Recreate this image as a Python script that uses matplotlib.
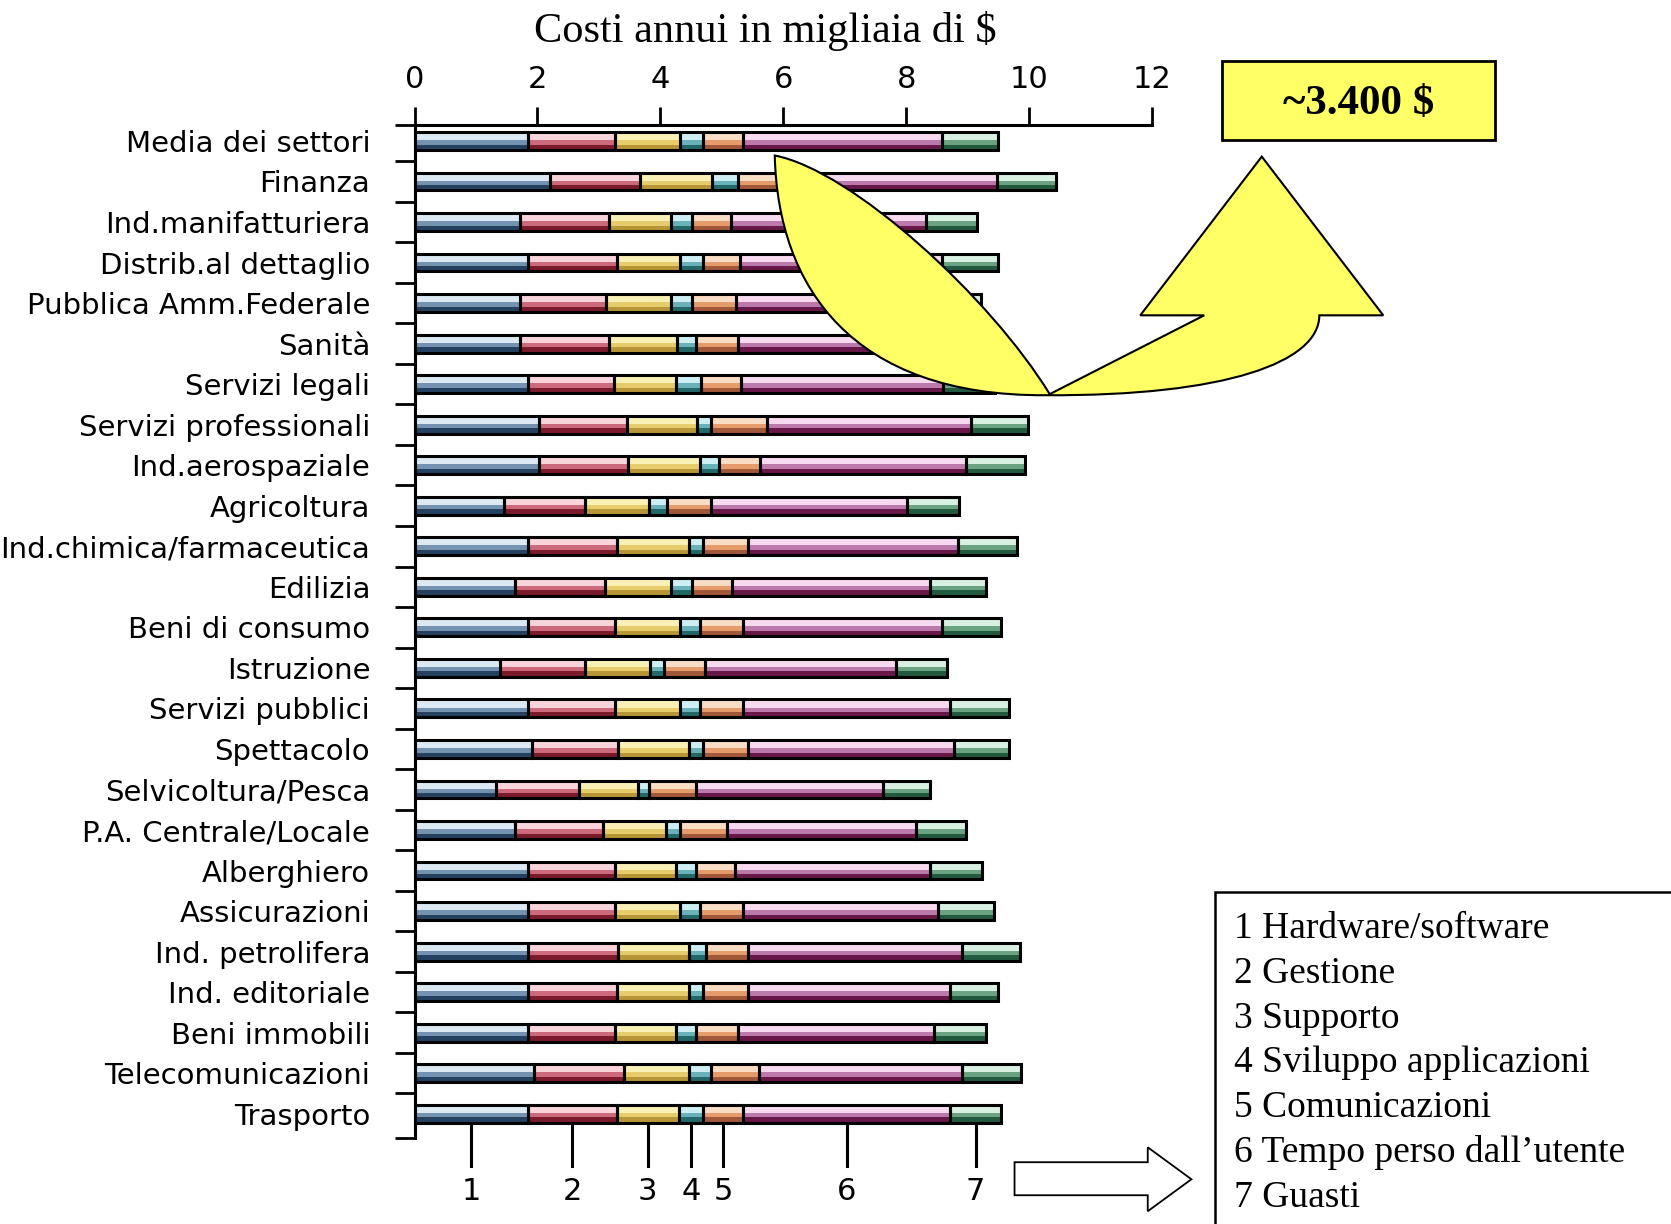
import numpy as np
import matplotlib.pyplot as plt
from matplotlib.path import Path
from matplotlib.patches import PathPatch, Rectangle, Polygon

# settori (dall'alto verso il basso)
settori = ["Media dei settori", "Finanza", "Ind.manifatturiera", "Distrib.al dettaglio",
           "Pubblica Amm.Federale", "Sanità", "Servizi legali", "Servizi professionali",
           "Ind.aerospaziale", "Agricoltura", "Ind.chimica/farmaceutica", "Edilizia",
           "Beni di consumo", "Istruzione", "Servizi pubblici", "Spettacolo",
           "Selvicoltura/Pesca", "P.A. Centrale/Locale", "Alberghiero", "Assicurazioni",
           "Ind. petrolifera", "Ind. editoriale", "Beni immobili", "Telecomunicazioni",
           "Trasporto"]

# costi annui (migliaia di $) per componente
hardware = [1.84, 2.21, 1.71, 1.84, 1.71, 1.71, 1.84, 2.02, 2.02, 1.45, 1.84, 1.64, 1.84,
            1.39, 1.84, 1.91, 1.33, 1.64, 1.84, 1.84, 1.84, 1.84, 1.84, 1.95, 1.84]
gestione = [1.42, 1.46, 1.46, 1.45, 1.41, 1.46, 1.40, 1.44, 1.46, 1.33, 1.45, 1.46, 1.42,
            1.39, 1.42, 1.40, 1.34, 1.42, 1.42, 1.42, 1.47, 1.45, 1.42, 1.46, 1.45]
supporto = [1.06, 1.17, 1.01, 1.03, 1.06, 1.10, 1.02, 1.14, 1.16, 1.03, 1.17, 1.08, 1.06,
            1.05, 1.06, 1.16, 0.97, 1.03, 0.99, 1.06, 1.15, 1.17, 0.99, 1.05, 1.01]
sviluppo = [0.38, 0.43, 0.33, 0.38, 0.33, 0.31, 0.40, 0.22, 0.32, 0.30, 0.24, 0.33, 0.33,
            0.23, 0.33, 0.23, 0.17, 0.23, 0.33, 0.33, 0.29, 0.24, 0.33, 0.36, 0.40]
comunicazioni = [0.64, 0.65, 0.64, 0.60, 0.72, 0.69, 0.65, 0.91, 0.66, 0.71, 0.73, 0.65, 0.69,
                 0.66, 0.69, 0.73, 0.77, 0.76, 0.64, 0.69, 0.68, 0.73, 0.69, 0.78, 0.64]
tempo_perso = [3.25, 3.55, 3.17, 3.28, 3.22, 3.23, 3.29, 3.32, 3.36, 3.20, 3.41, 3.23, 3.25,
               3.11, 3.38, 3.35, 3.05, 3.08, 3.17, 3.18, 3.48, 3.29, 3.19, 3.31, 3.38]
guasti = [0.91, 0.97, 0.83, 0.92, 0.77, 0.80, 0.85, 0.94, 0.96, 0.84, 0.96, 0.91, 0.95,
          0.83, 0.96, 0.90, 0.76, 0.82, 0.84, 0.91, 0.94, 0.78, 0.84, 0.96, 0.82]

componenti = ["1 Hardware/software", "2 Gestione", "3 Supporto", "4 Sviluppo applicazioni",
              "5 Comunicazioni", "6 Tempo perso dall\u2019utente", "7 Guasti"]
numeri = ["1", "2", "3", "4", "5", "6", "7"]
xticks = [0, 2, 4, 6, 8, 10, 12]

# colori: chiaro (sopra), medio, scuro (sotto)
chiari = ['#dce9f3', '#f8d3da', '#f8f0b4', '#cdeff3', '#f8dcc4', '#f8daf0', '#d8f0e2']
medi = ['#7393b1', '#cc6a7c', '#e6cc6a', '#6ab2ba', '#e69c6a', '#bc7aac', '#6aa282']
scuri = ['#24425f', '#7a1a2a', '#b89638', '#226868', '#a05838', '#681848', '#225a40']

sans = ['DejaVu Sans']
serif = ['Liberation Serif', 'DejaVu Serif']

fig = plt.figure(figsize=(16.71, 12.24), dpi=100)
ax = fig.add_axes([0.2481, 0.0702, 0.4413, 0.8279])

segs = np.array([hardware, gestione, supporto, sviluppo, comunicazioni, tempo_perso, guasti])
lefts = np.vstack([np.zeros(len(settori)), np.cumsum(segs, axis=0)[:-1]])
y = np.arange(len(settori))
h = 0.44

for k in range(7):
    top = y - h / 2
    ax.barh(top + 0.225 * h, segs[k], left=lefts[k], height=0.45 * h, color=chiari[k], zorder=2)
    ax.barh(top + 0.575 * h, segs[k], left=lefts[k], height=0.25 * h, color=medi[k], zorder=2)
    ax.barh(top + 0.85 * h, segs[k], left=lefts[k], height=0.30 * h, color=scuri[k], zorder=2)
    ax.barh(y, segs[k], left=lefts[k], height=h, fill=False, edgecolor='black',
            linewidth=2.2, zorder=3)

ax.set_xlim(0, 12)
ax.set_ylim(24.6, -0.4)
ax.xaxis.tick_top()
ax.set_xticks(xticks)
ax.set_xticklabels([str(t) for t in xticks], fontfamily=sans, fontsize=22)
ax.tick_params(axis='x', direction='out', length=13, width=2, pad=9)

ax.set_yticks(y)
ax.set_yticklabels(settori, fontfamily=sans, fontsize=21)
ax.set_yticks(np.concatenate([[-0.4], np.arange(0.5, 24), [24.6]]), minor=True)
ax.tick_params(axis='y', which='major', length=0, pad=32)
ax.tick_params(axis='y', which='minor', length=14.5, width=2)

ax.spines['bottom'].set_visible(False)
ax.spines['right'].set_visible(False)
ax.spines['top'].set_linewidth(2.2)
ax.spines['left'].set_linewidth(2.2)

# richiami numerati sotto l'ultima barra
ultimo = len(settori) - 1
for k in range(7):
    mid = lefts[k][ultimo] + segs[k][ultimo] / 2
    ax.plot([mid, mid], [24.26, 25.29], color='black', lw=2.2, clip_on=False)
    ax.text(mid, 25.92, numeri[k], ha='center', va='center', fontfamily=sans,
            fontsize=22, clip_on=False)

fig.text(718.5 / 1568, 1 - 29 / 1149, "Costi annui in migliaia di $", ha='center',
         va='center', fontfamily=serif, fontsize=30.5)

# livello sovrapposto per le forme decorative (coordinate pixel dell'immagine)
ov = fig.add_axes([0, 0, 1, 1], zorder=5)
ov.set_xlim(0, 1568)
ov.set_ylim(1149, 0)
ov.axis('off')
ov.patch.set_alpha(0)

giallo = '#ffff66'
verts = [(727, 146),
         (730, 270), (800, 372), (981, 371),
         (1150, 372), (1238, 340), (1238, 296),
         (1298, 296), (1184, 147), (1070, 296), (1130, 296), (985, 370),
         (930, 280), (800, 160), (727, 146),
         (727, 146)]
codes = [Path.MOVETO,
         Path.CURVE4, Path.CURVE4, Path.CURVE4,
         Path.CURVE4, Path.CURVE4, Path.CURVE4,
         Path.LINETO, Path.LINETO, Path.LINETO, Path.LINETO, Path.LINETO,
         Path.CURVE4, Path.CURVE4, Path.CURVE4,
         Path.CLOSEPOLY]
ov.add_patch(PathPatch(Path(verts, codes), facecolor=giallo, edgecolor='black', lw=1.5))

ov.add_patch(Rectangle((1147, 57), 256, 74, facecolor=giallo, edgecolor='black', lw=2))
ov.text(1275, 98, "~3.400 $", ha='center', va='center', fontfamily=serif,
        fontweight='bold', fontsize=31)

# legenda
ov.add_patch(Rectangle((1140, 837), 500, 400, facecolor='white', edgecolor='black', lw=1.8))
for i, c in enumerate(componenti):
    ov.text(1158, 872 + 42 * i, c, ha='left', va='center', fontfamily=serif, fontsize=27)

ov.add_patch(Polygon([(952, 1091), (1077, 1091), (1077, 1077), (1118, 1107), (1077, 1137),
                      (1077, 1122), (952, 1122)], closed=True, facecolor='white',
                     edgecolor='black', lw=1.3))

fig.savefig('out.png', dpi=100)
